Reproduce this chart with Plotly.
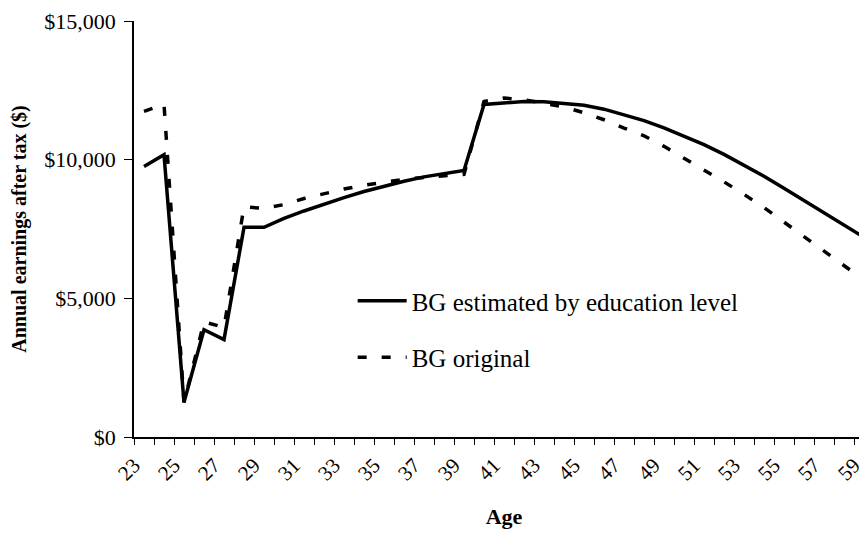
import plotly.graph_objects as go

ages = list(range(23, 60))
bg_estimated = [9750, 10180, 1250, 3870, 3510, 7560, 7560, 7880, 8150, 8400,
                8630, 8850, 9040, 9220, 9380, 9500, 9610, 11990, 12060, 12100,
                12090, 12040, 11960, 11820, 11630, 11410, 11150, 10860, 10540, 10190,
                9810, 9400, 8970, 8530, 8090, 7640, 7200]
bg_original = [11740, 12000, 1250, 4150, 3950, 8300, 8240, 8380, 8600, 8780,
               8940, 9080, 9200, 9290, 9360, 9420, 9470, 12100, 12220, 12160,
               12020, 11900, 11690, 11440, 11140, 10860, 10480, 10060, 9650, 9200,
               8750, 8270, 7750, 7230, 6700, 6170, 5660]
x_tick_ages = ages[::2]
x_tick_text = [str(a) for a in x_tick_ages]
y_tick_vals = [0, 5000, 10000, 15000]
y_tick_text = ["$0", "$5,000", "$10,000", "$15,000"]

FONT = "Liberation Serif, Times New Roman, serif"

fig = go.Figure()
fig.add_trace(go.Scatter(
    x=ages, y=bg_estimated, mode="lines", name="BG estimated by education level",
    line=dict(color="black", width=3.5), legendgroup="a"))
fig.add_trace(go.Scatter(
    x=ages, y=bg_original, mode="lines", name="BG original",
    line=dict(color="black", width=3.5, dash="9px,15px"), legendgroup="b"))

fig.update_layout(
    width=867, height=538,
    margin=dict(l=126, r=1, t=8, b=109),
    paper_bgcolor="white", plot_bgcolor="white",
    font=dict(family=FONT, color="black", size=20),
    showlegend=True,
    legend=dict(x=0.2955, y=0.382, xanchor="left", yanchor="top",
                font=dict(family=FONT, size=25, color="black"),
                itemwidth=49, tracegroupgap=21,
                bgcolor="rgba(0,0,0,0)", borderwidth=0),
    xaxis=dict(range=[22.5, 59.5], tickmode="array", tickvals=x_tick_ages,
               ticktext=x_tick_text, tickangle=-45, ticks="",
               showline=True, linecolor="black", linewidth=1.5,
               showgrid=False, zeroline=False, ticklabeloverflow="allow",
               minor=dict(tickmode="linear", tick0=22.5, dtick=1, ticks="outside",
                          ticklen=6, tickcolor="black", tickwidth=1.2, showgrid=False),
               ticklabelshift=-10, ticklabelstandoff=6,
               tickfont=dict(family=FONT, size=21, color="black"),
               title=dict(text="<b>Age</b>", font=dict(family=FONT, size=22, color="black"),
                          standoff=24)),
    yaxis=dict(range=[0, 15000], tickmode="array", tickvals=y_tick_vals,
               ticktext=y_tick_text, ticks="outside", ticklen=8, tickwidth=1.2,
               tickcolor="black", showline=True, linecolor="black", linewidth=1.5,
               showgrid=False, zeroline=False, ticklabelstandoff=4,
               ticklabeloverflow="allow",
               tickfont=dict(family=FONT, size=22, color="black"),
               title=dict(text="<b>Annual earnings after tax ($)</b>",
                          font=dict(family=FONT, size=20, color="black"), standoff=13)),
)

fig.write_html("out.html")
